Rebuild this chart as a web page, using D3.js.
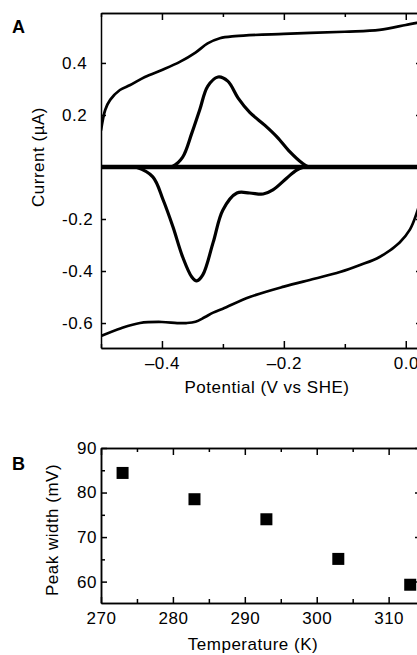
<!DOCTYPE html>
<html>
<head>
<meta charset="utf-8">
<script src="https://cdn.jsdelivr.net/npm/d3@7"></script>
<style>
  body { margin: 0; background: #fff; }
  svg { display: block; font-family: "Liberation Sans", Arial, sans-serif; }
  .axis path, .axis line { stroke: #000; stroke-width: 1.5; }
  .axis text { font-size: 17px; fill: #000; letter-spacing: 0.5px; }
  .title { font-size: 17px; letter-spacing: 0.5px; }
  .panel { font-size: 18px; font-weight: bold; }
</style>
</head>
<body>
<svg width="417" height="655"></svg>
<script>
// panel A: background voltammogram (upper and lower branches)
const upperE = [-0.5, -0.493, -0.485, -0.469, -0.452, -0.428, -0.4, -0.37, -0.345, -0.325, -0.305, -0.28, -0.2, -0.1, -0.043, 0, 0.018, 0.03];
const upperI = [0.14, 0.22, 0.258, 0.296, 0.315, 0.346, 0.373, 0.405, 0.44, 0.475, 0.495, 0.503, 0.512, 0.52, 0.527, 0.546, 0.554, 0.56];
const lowerE = [-0.5, -0.467, -0.436, -0.4, -0.375, -0.36, -0.345, -0.33, -0.316, -0.3, -0.256, -0.2, -0.15, -0.108, -0.075, -0.043, -0.01, 0.007, 0.018, 0.03];
const lowerI = [-0.65, -0.62, -0.60, -0.596, -0.60, -0.60, -0.595, -0.578, -0.56, -0.545, -0.50, -0.46, -0.43, -0.404, -0.377, -0.346, -0.29, -0.24, -0.177, -0.08];

// panel A: baseline-subtracted oxidative and reductive peaks
const oxE = [-0.39, -0.382, -0.366, -0.351, -0.338, -0.325, -0.308, -0.292, -0.275, -0.256, -0.231, -0.211, -0.190, -0.170, -0.161, -0.15];
const oxI = [0, 0.003, 0.038, 0.13, 0.22, 0.31, 0.346, 0.33, 0.265, 0.21, 0.16, 0.115, 0.058, 0.015, 0.002, 0];
const redE = [-0.45, -0.441, -0.415, -0.398, -0.382, -0.366, -0.351, -0.343, -0.333, -0.316, -0.300, -0.277, -0.256, -0.234, -0.218, -0.195, -0.179, -0.169, -0.16];
const redI = [0, -0.002, -0.038, -0.127, -0.23, -0.346, -0.423, -0.438, -0.415, -0.29, -0.165, -0.10, -0.10, -0.104, -0.088, -0.042, -0.012, -0.002, 0];

const aXTicks = [-0.4, -0.2, 0.0];
const aXTickLabels = ['\u20130.4', '\u20130.2', '0.0'];
const aXMinor = [-0.5, -0.3, -0.1];
const aYTicks = [0.4, 0.2, -0.2, -0.4, -0.6];
const aYTickLabels = ['0.4', '0.2', '-0.2', '-0.4', '-0.6'];

// panel B: peak width vs temperature
const temps = [273, 283, 293, 303, 313];
const peakWidths = [84.4, 78.5, 74.0, 65.1, 59.3];
const bXTicks = [270, 280, 290, 300, 310];
const bXMinor = [275, 285, 295, 305];
const bYTicks = [60, 70, 80, 90];
const bYMinor = [65, 75, 85];

const svg = d3.select('svg');
const zip = (xs, ys) => xs.map((x, i) => ({x, y: ys[i]}));

// ---------- panel A ----------
const aLeft = 101, aRight = 421, aTop = 13, aBottom = 348;
const xA = d3.scaleLinear().domain([-0.5, 0.025]).range([aLeft, aRight]);
const yA = d3.scaleLinear().domain([-0.696, 0.592]).range([aBottom, aTop]);

svg.append('clipPath').attr('id', 'clipA')
  .append('rect')
  .attr('x', aLeft).attr('y', aTop)
  .attr('width', aRight - aLeft).attr('height', aBottom - aTop);

const gA = svg.append('g').attr('clip-path', 'url(#clipA)');
const lineA = d3.line().x(d => xA(d.x)).y(d => yA(d.y)).curve(d3.curveCatmullRom.alpha(0.5));

gA.append('path').attr('d', lineA(zip(upperE, upperI)))
  .attr('fill', 'none').attr('stroke', '#000').attr('stroke-width', 2.7);
gA.append('path').attr('d', lineA(zip(lowerE, lowerI)))
  .attr('fill', 'none').attr('stroke', '#000').attr('stroke-width', 2.7);
gA.append('path').attr('d', lineA(zip(oxE, oxI)))
  .attr('fill', 'none').attr('stroke', '#000').attr('stroke-width', 3.2);
gA.append('path').attr('d', lineA(zip(redE, redI)))
  .attr('fill', 'none').attr('stroke', '#000').attr('stroke-width', 3.2);
gA.append('path').attr('d', lineA(zip(xA.domain(), [0, 0])))
  .attr('fill', 'none').attr('stroke', '#000').attr('stroke-width', 4.5);

const axA = (axis, tx, ty) => svg.append('g').attr('class', 'axis')
  .attr('transform', `translate(${tx},${ty})`).call(axis);

axA(d3.axisBottom(xA).tickValues(aXTicks).tickSize(-7).tickSizeOuter(0).tickPadding(9)
  .tickFormat((d, i) => aXTickLabels[i]), 0, aBottom);
axA(d3.axisBottom(xA).tickValues(aXMinor).tickSize(-4).tickSizeOuter(0).tickFormat(''), 0, aBottom);
axA(d3.axisTop(xA).tickValues(aXTicks).tickSize(-7).tickSizeOuter(0).tickFormat(''), 0, aTop);
axA(d3.axisTop(xA).tickValues(aXMinor).tickSize(-4).tickSizeOuter(0).tickFormat(''), 0, aTop);
const yAxA = axA(d3.axisLeft(yA).tickValues(aYTicks).tickSize(-5).tickSizeOuter(0)
  .tickFormat((d, i) => aYTickLabels[i]), aLeft, 0);
yAxA.selectAll('text').attr('text-anchor', 'start').attr('x', 62 - aLeft);
axA(d3.axisRight(yA).tickValues(aYTicks).tickSize(-5).tickSizeOuter(0).tickFormat(''), aRight, 0);

svg.append('text').attr('class', 'panel').attr('x', 12).attr('y', 33).text('A');
svg.append('text').attr('class', 'title')
  .attr('transform', 'translate(44,157) rotate(-90)')
  .attr('text-anchor', 'middle').text('Current (\u00b5A)');
svg.append('text').attr('class', 'title')
  .attr('x', 267).attr('y', 393)
  .attr('text-anchor', 'middle').text('Potential (V vs SHE)');

// ---------- panel B ----------
const bLeft = 101, bRight = 421, bTop = 448, bBottom = 603;
const xB = d3.scaleLinear().domain([270, 314.5]).range([bLeft, bRight]);
const yB = d3.scaleLinear().domain([55.2, 90]).range([bBottom, bTop]);

const axB = axA;
axB(d3.axisBottom(xB).tickValues(bXTicks).tickSize(-6).tickSizeOuter(0).tickPadding(9)
  .tickFormat(d3.format('d')), 0, bBottom);
axB(d3.axisBottom(xB).tickValues(bXMinor).tickSize(-4).tickSizeOuter(0).tickFormat(''), 0, bBottom);
axB(d3.axisTop(xB).tickValues(bXTicks).tickSize(-7).tickSizeOuter(0).tickFormat(''), 0, bTop);
axB(d3.axisTop(xB).tickValues(bXMinor).tickSize(-4).tickSizeOuter(0).tickFormat(''), 0, bTop);
axB(d3.axisLeft(yB).tickValues(bYTicks).tickSize(-6).tickSizeOuter(0).tickPadding(4)
  .tickFormat(d3.format('d')), bLeft, 0);
axB(d3.axisLeft(yB).tickValues(bYMinor).tickSize(-4).tickSizeOuter(0).tickFormat(''), bLeft, 0);
axB(d3.axisRight(yB).tickValues(bYTicks).tickSize(-6).tickSizeOuter(0).tickFormat(''), bRight, 0);

const sq = 12;
svg.append('g').selectAll('rect')
  .data(zip(temps, peakWidths))
  .join('rect')
  .attr('x', d => xB(d.x) - sq / 2)
  .attr('y', d => yB(d.y) - sq / 2)
  .attr('width', sq).attr('height', sq)
  .attr('fill', '#000');

svg.append('text').attr('class', 'panel').attr('x', 12).attr('y', 470).text('B');
svg.append('text').attr('class', 'title')
  .attr('transform', 'translate(58,530) rotate(-90)')
  .attr('text-anchor', 'middle').text('Peak width (mV)');
svg.append('text').attr('class', 'title')
  .attr('x', 253).attr('y', 650)
  .attr('text-anchor', 'middle').text('Temperature (K)');
</script>
</body>
</html>
